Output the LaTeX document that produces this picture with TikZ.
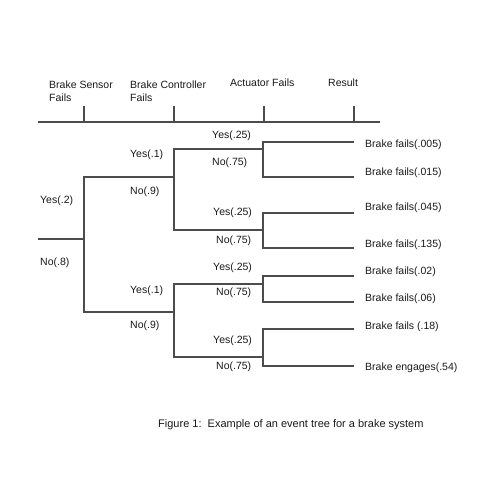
\documentclass[tikz,border=0pt]{standalone}
\usepackage{fontspec}
\setmainfont{Liberation Sans}
\begin{document}
\begin{tikzpicture}[x=1pt,y=-1pt,
  ln/.style={draw=black!70,line width=1.3pt},
  lbl/.style={anchor=west,inner sep=0pt,font=\fontsize{10.5}{12.5}\selectfont,text=black!90}]
\useasboundingbox (0,0) rectangle (500,500);
% header
\coordinate (hl) at (38,122); \coordinate (hr) at (380,122);
\foreach \n/\x in {t1/84,t2/174,t3/264,t4/354}{
  \coordinate (\n b) at (\x,122); \coordinate (\n t) at (\x,106);
  \draw[ln] (\n b) -- (\n t);}
\draw[ln] (hl) -- (hr);
\node[lbl,align=left] (h1) at (49,91) {Brake Sensor\\Fails};
\node[lbl,align=left] (h2) at (130,91) {Brake Controller\\Fails};
\node[lbl] (h3) at (230,83) {Actuator Fails};
\node[lbl] (h4) at (328,83) {Result};
% tree coordinates
\coordinate (r0) at (38,239); \coordinate (r1) at (84,239);
\coordinate (a1) at (84,177); \coordinate (a2) at (84,312);
\coordinate (b1) at (174,177); \coordinate (b2) at (174,312);
\coordinate (b1t) at (174,149); \coordinate (b1b) at (174,230);
\coordinate (b2t) at (174,284); \coordinate (b2b) at (174,357);
\coordinate (c1) at (263,149); \coordinate (c2) at (263,230);
\coordinate (c3) at (263,284); \coordinate (c4) at (263,357);
\foreach \c/\t/\b in {c1/142/177,c2/213/248,c3/276/302,c4/329/366}{
  \coordinate (\c t) at (263,\t); \coordinate (\c b) at (263,\b);
  \coordinate (\c tl) at (354,\t); \coordinate (\c bl) at (354,\b);
  \draw[ln] (\c tl) -- (\c t) -- (\c b) -- (\c bl);}
\draw[ln] (r0) -- (r1);
\draw[ln] (b1) -- (a1) -- (a2) -- (b2);
\draw[ln] (c1) -- (b1t) -- (b1b) -- (c2);
\draw[ln] (c3) -- (b2t) -- (b2b) -- (c4);
% branch labels
\node[lbl] (y1) at (40,201) {Yes(.2)};
\node[lbl] (n1) at (40,263) {No(.8)};
\node[lbl] (y2a) at (130,155) {Yes(.1)};
\node[lbl] (n2a) at (130,192) {No(.9)};
\node[lbl] (y2b) at (130,291) {Yes(.1)};
\node[lbl] (n2b) at (130,326) {No(.9)};
\node[lbl] (y3a) at (212,136) {Yes(.25)};
\node[lbl] (n3a) at (212,163) {No(.75)};
\node[lbl] (y3b) at (213,213) {Yes(.25)};
\node[lbl] (n3b) at (216,241) {No(.75)};
\node[lbl] (y3c) at (213,268) {Yes(.25)};
\node[lbl] (n3c) at (216,293) {No(.75)};
\node[lbl] (y3d) at (213,341) {Yes(.25)};
\node[lbl] (n3d) at (216,367) {No(.75)};
% results
\node[lbl] (e1) at (365,145) {Brake fails(.005)};
\node[lbl] (e2) at (365,173) {Brake fails(.015)};
\node[lbl] (e3) at (365,208) {Brake fails(.045)};
\node[lbl] (e4) at (365,245) {Brake fails(.135)};
\node[lbl] (e5) at (365,272) {Brake fails(.02)};
\node[lbl] (e6) at (365,299) {Brake fails(.06)};
\node[lbl] (e7) at (365,327) {Brake fails (.18)};
\node[lbl] (e8) at (365,368) {Brake engages(.54)};
% caption
\node[lbl,font=\fontsize{11}{13}\selectfont] (cap) at (158,425) {Figure 1:\ \ Example of an event tree for a brake system};
\end{tikzpicture}
\end{document}
